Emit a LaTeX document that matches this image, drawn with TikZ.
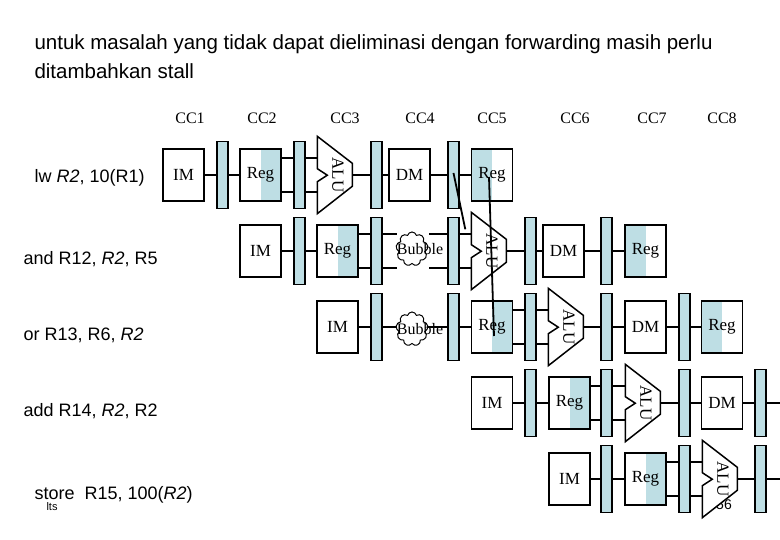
\documentclass[tikz,border=0pt]{standalone}
\usepackage{fontspec}
\setmainfont{Liberation Serif}
\newfontfamily\arial{Liberation Sans}
\usetikzlibrary{calc,shapes.symbols}
\definecolor{pipec}{RGB}{190,222,228}
\tikzset{
 unit/.style={draw,line width=1.5pt,fill=white,minimum width=41pt,minimum height=52pt,inner sep=0,font=\fontsize{17}{17}\selectfont},
 preg/.style={draw,line width=1.5pt,fill=pipec,minimum width=11pt,minimum height=67pt,inner sep=0},
 wire/.style={line width=1.8pt},
 lbl/.style={anchor=west,font=\arial\fontsize{18}{18}\selectfont},
 cc/.style={font=\fontsize{16}{16}\selectfont},
 bubble/.style={cloud,cloud puffs=9,draw,line width=1pt,fill=white,minimum width=32pt,minimum height=34pt,inner sep=0}
}
\newcommand{\IMx}[3]{\node[unit] (#1) at (#2,#3) {IM};}
\newcommand{\DMx}[3]{\node[unit] (#1) at (#2,#3) {DM};}
\newcommand{\PR}[3]{\node[preg] (#1) at (#2,#3) {};}
\newcommand{\RegR}[3]{\node[unit,path picture={\fill[pipec] (path picture bounding box.north) rectangle (path picture bounding box.south east);}] (#1) at (#2,#3) {Reg};}
\newcommand{\RegL}[3]{\node[unit,path picture={\fill[pipec] (path picture bounding box.north west) rectangle (path picture bounding box.south);}] (#1) at (#2,#3) {Reg};}
\newcommand{\ALUx}[3]{\node[inner sep=0,minimum width=35pt,minimum height=77pt] (#1) at (#2,#3) {};
 \draw[line width=1.5pt,fill=white] (#1.north west) -- ++(35pt,-27pt) -- ++(0,-23pt) -- (#1.south west) -- ++(0,32pt) -- ++(10pt,6.5pt) -- ++(-10pt,6.5pt) -- cycle;
 \node[rotate=-90,font=\fontsize{17}{17}\selectfont] at ($(#1)+(3pt,0)$) {ALU};}
\newcommand{\W}[2]{\draw[wire] (#1.east) -- (#2.west);}
\newcommand{\WW}[2]{\draw[wire] ($(#1.east)+(0,17pt)$) -- ($(#2.west)+(0,17pt)$); \draw[wire] ($(#1.east)+(0,-17pt)$) -- ($(#2.west)+(0,-17pt)$);}
\newcommand{\BUB}[3]{\node[bubble] (#1) at (#2,#3) {}; \node[font=\fontsize{16}{16}\selectfont] at ($(#1)+(8pt,0)$) {Bubble};}
\begin{document}
\begin{tikzpicture}[x=1pt,y=-1pt]
\useasboundingbox (0,0) rectangle (780,540);
\node[anchor=west,font=\arial\fontsize{20.5}{20.5}\selectfont] at (31,44) {untuk masalah yang tidak dapat dieliminasi dengan forwarding masih perlu};
\node[anchor=west,font=\arial\fontsize{20.5}{20.5}\selectfont] at (31,71) {ditambahkan stall};
\foreach \t/\x in {CC1/190,CC2/262,CC3/345,CC4/420,CC5/492,CC6/575,CC7/652,CC8/722}
  \node[cc] at (\x,118) {\t};
\node[lbl] (l1) at (31,178) {lw \textit{R2}, 10(R1)};
\node[lbl] (l2) at (20,259) {and R12, \textit{R2}, R5};
\node[lbl] (l3) at (20,335) {or R13, R6, \textit{R2}};
\node[lbl] (l4) at (20,411) {add R14, \textit{R2}, R2};
\node[lbl] (l5) at (31,495) {store\ \ R15, 100(\textit{R2})};
\node[font=\arial\fontsize{11}{11}\selectfont] (lts) at (52,507) {lts};
\node[font=\arial\fontsize{14}{14}\selectfont] (pg) at (724,505) {56};
% row 0
\IMx{a1}{183.5}{175} \PR{ap1}{222.5}{175} \RegR{a2}{260.5}{175} \PR{ap2}{299.5}{175}
\ALUx{a3}{335}{175} \PR{ap3}{376.5}{175} \DMx{a4}{409.5}{175} \PR{ap4}{453.5}{175} \RegL{a5}{492}{175}
\W{a1}{ap1} \W{ap1}{a2} \WW{a2}{ap2} \WW{ap2}{a3} \W{a3}{ap3} \W{ap3}{a4} \W{a4}{ap4} \W{ap4}{a5}
% row 1
\IMx{b1}{260.5}{251} \PR{bp1}{299.5}{251} \RegR{b2}{337.5}{251} \PR{bp2}{376.5}{251}
\PR{bp3}{453.5}{251} \ALUx{b4}{489}{251} \PR{bp4}{530.5}{251} \DMx{b5}{563.5}{251} \PR{bp5}{606.5}{251} \RegL{b6}{645.5}{251}
\W{b1}{bp1} \W{bp1}{b2} \WW{b2}{bp2}
\foreach \dy in {-17,17} {
  \draw[wire] ($(bp2.east)+(0,\dy pt)$) -- ++(14pt,0);
  \draw[wire] ($(bp3.west)+(0,\dy pt)$) -- ++(-18pt,0);
}
\BUB{bb1}{412}{249}
\WW{bp3}{b4} \W{b4}{bp4} \W{bp4}{b5} \W{b5}{bp5} \W{bp5}{b6}
% row 2
\IMx{c1}{337.5}{327} \PR{cp1}{376.5}{327} \PR{cp2}{453.5}{327} \RegR{c3}{492}{327} \PR{cp3}{530.5}{327}
\ALUx{c4}{566}{327} \PR{cp4}{606.5}{327} \DMx{c5}{645.5}{327} \PR{cp5}{684.5}{327} \RegL{c6}{722}{327}
\W{c1}{cp1} \W{cp1}{cp2}
\BUB{bb2}{412}{329}
\W{cp2}{c3} \WW{c3}{cp3} \WW{cp3}{c4} \W{c4}{cp4} \W{cp4}{c5} \W{c5}{cp5} \W{cp5}{c6}
% row 3
\coordinate (dend) at (780,403);
\IMx{d1}{492}{403} \PR{dp1}{530.5}{403} \RegR{d2}{569.5}{403} \PR{dp2}{606.5}{403}
\ALUx{d3}{643}{403} \PR{dp3}{684.5}{403} \DMx{d4}{722}{403} \PR{dp4}{760.5}{403}
\W{d1}{dp1} \W{dp1}{d2} \WW{d2}{dp2} \WW{dp2}{d3} \W{d3}{dp3} \W{dp3}{d4} \W{d4}{dp4} \draw[wire] (dp4.east) -- (dend);
% row 4
\coordinate (eend) at (780,479);
\IMx{e1}{569.5}{479} \PR{ep1}{606.5}{479} \RegR{e2}{645.5}{479} \PR{ep2}{684.5}{479}
\ALUx{e3}{720}{479} \PR{ep3}{760.5}{479}
\W{e1}{ep1} \W{ep1}{e2} \WW{e2}{ep2} \WW{ep2}{e3} \W{e3}{ep3} \draw[wire] (ep3.east) -- (eend);
% forwarding
\draw[wire] ($(ap4)+(0,2pt)$) -- ($(b4.north west)+(-6pt,-17pt)$);
\draw[wire] ($(a5)+(-3pt,-2pt)$) -- ($(c3)+(2pt,-9pt)$);
\end{tikzpicture}
\end{document}
